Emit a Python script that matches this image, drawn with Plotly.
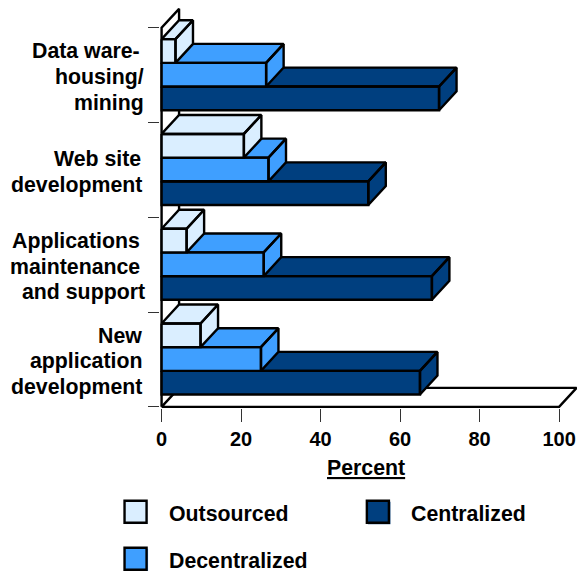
import plotly.graph_objects as go

# Survey results: share of each IT function by delivery model
category_lines = [["Data ware-", "housing/", "mining"],
                  ["Web site", "development"],
                  ["Applications", "maintenance", "and support"],
                  ["New", "application", "development"]]
outsourced = [3.5, 20.7, 6.3, 9.8]
decentralized = [26.3, 26.9, 25.7, 25.0]
centralized = [69.8, 52.0, 68.0, 65.0]
x_ticks = [0, 20, 40, 60, 80, 100]

# Hand-set right edge of each wrapped label line, measured back from the axis
label_gaps = [[22, 18, 18], [21.5, 20], [22, 22, 17], [20, 20, 20]]

LIGHT, MID, DARK = "#DAEEFF", "#3F9FFF", "#003F7F"
INK = "#000000"
FONT = "Liberation Sans"
EDGE = 2.4
W, H = 577, 571

# Scale of the oblique drawing: pixels per axis unit, and where 0 and 100 / top and bottom land
X0, X100, Y_TOP, Y_BOT = 162, 559, 27.5, 407
SX = (X100 - X0) / 100
SY = (Y_BOT - Y_TOP) / 4

# Oblique projection offset and bar layout, in axis units (one band = 1 on y)
DX, DY = 4.4, 0.2
BAR_H, BAR_PAD = 0.25, 0.12
LINE_STEP = 25.6 / SY
N = len(category_lines)

# The axis ranges run a little past the box so its outline stays inside the plot area
PAD_L, PAD_R, PAD_T, PAD_B = 0.4, 0.1, 0.03, 0.012
LEFT = X0 - PAD_L * SX
RIGHT = X100 + (DX + PAD_R) * SX
TOP = Y_TOP - (DY + PAD_T) * SY
BOTTOM = Y_BOT + PAD_B * SY
PLOT_W, PLOT_H = RIGHT - LEFT, BOTTOM - TOP


def box_path(value, y_top, y_bot):
    """Top, side and front faces of a projected bar, as one gapped polygon path."""
    xs = [0, DX, value + DX, value, 0, None,
          value, value + DX, value + DX, value, value, None,
          0, value, value, 0, 0]
    ys = [y_top, y_top - DY, y_top - DY, y_top, y_top, None,
          y_top, y_top - DY, y_bot - DY, y_bot, y_top, None,
          y_top, y_top, y_bot, y_bot, y_top]
    return xs, ys


fig = go.Figure()

# Floor and back wall of the chart box
fig.add_trace(go.Scatter(
    x=[0, 100, 100 + DX, DX, 0], y=[N, N, N - DY, N - DY, N],
    mode="lines", line=dict(color=INK, width=EDGE), fill="toself", fillcolor="white",
    cliponaxis=False, hoverinfo="skip", showlegend=False))
fig.add_trace(go.Scatter(
    x=[0, 0, DX, DX], y=[N, 0, -DY, N - DY],
    mode="lines", line=dict(color=INK, width=EDGE), cliponaxis=False,
    hoverinfo="skip", showlegend=False))

# Within a band the lowest bar goes down first, so the bar above hides its top face
series = [("Outsourced", outsourced, LIGHT), ("Decentralized", decentralized, MID),
          ("Centralized", centralized, DARK)]
for i in range(N):
    for j in (2, 1, 0):
        name, values, color = series[j]
        y_top = i + BAR_PAD + j * BAR_H
        xs, ys = box_path(values[i], y_top, y_top + BAR_H)
        fig.add_trace(go.Scatter(
            x=xs, y=ys, name=name, mode="lines",
            line=dict(color=INK, width=EDGE), fill="toself", fillcolor=color,
            cliponaxis=False, showlegend=False, hoverinfo="skip"))


def px(x):
    return (x - LEFT) / PLOT_W


def py(y):
    return (BOTTOM - y) / PLOT_H


shapes = []
annotations = []

# Category labels, one annotation per line for tight leading
for i, lines in enumerate(category_lines):
    for k, line in enumerate(lines):
        annotations.append(dict(
            text=f"<b>{line}</b>", xref="x", yref="y", x=0,
            y=i + 0.5 + 0.019 + (k - (len(lines) - 1) / 2) * LINE_STEP,
            xanchor="right", yanchor="middle", xshift=-label_gaps[i][k] + 2.5, showarrow=False,
            font=dict(family=FONT, size=21.3, color=INK)))

# Axis title, underlined
annotations.append(dict(text="<b><u>Percent</u></b>", xref="paper", yref="paper",
                        x=px(366), y=py(468.5), xanchor="center", yanchor="middle", showarrow=False,
                        font=dict(family=FONT, size=21.3, color=INK)))

# Legend drawn by hand in its two-column arrangement, each swatch with a soft colour edge
legend_items = [("Outsourced", LIGHT, 125, 501), ("Centralized", DARK, 367, 501),
                ("Decentralized", MID, 125, 548)]
for label, color, sx, sy in legend_items:
    shapes.append(dict(type="rect", xref="paper", yref="paper",
                       x0=px(sx + 1), x1=px(sx + 23.5), y0=py(sy + 1), y1=py(sy + 23.5),
                       fillcolor=color, line=dict(width=0)))
    shapes.append(dict(type="rect", xref="paper", yref="paper",
                       x0=px(sx), x1=px(sx + 22), y0=py(sy), y1=py(sy + 22),
                       fillcolor=color, line=dict(color=INK, width=EDGE)))
    annotations.append(dict(text=f"<b>{label}</b>", xref="paper", yref="paper",
                            x=px(sx + 42.5), y=py(sy + 13), xanchor="left", yanchor="middle",
                            showarrow=False, font=dict(family=FONT, size=21.3, color=INK)))

fig.update_layout(
    width=W, height=H, autosize=False,
    margin=dict(l=LEFT, r=W - RIGHT, t=TOP, b=H - BOTTOM, pad=0),
    paper_bgcolor="white", plot_bgcolor="rgba(0,0,0,0)",
    showlegend=False, shapes=shapes, annotations=annotations,
    xaxis=dict(range=[-PAD_L, 100 + DX + PAD_R], tickvals=x_ticks, ticktext=[f"<b>{t}</b>" for t in x_ticks],
               ticks="outside", ticklen=13, tickwidth=1,
               tickcolor="#333333", showgrid=False, zeroline=False, showline=False, automargin=False,
               tickfont=dict(family=FONT, size=20, color=INK)),
    yaxis=dict(range=[N + PAD_B, -DY - PAD_T], tickvals=list(range(N + 1)), showticklabels=False,
               ticks="outside", ticklen=11, tickwidth=1, tickcolor="#333333",
               showgrid=False, zeroline=False, showline=False, automargin=False),
)

fig.write_html("out.html", config=dict(displayModeBar=False))
